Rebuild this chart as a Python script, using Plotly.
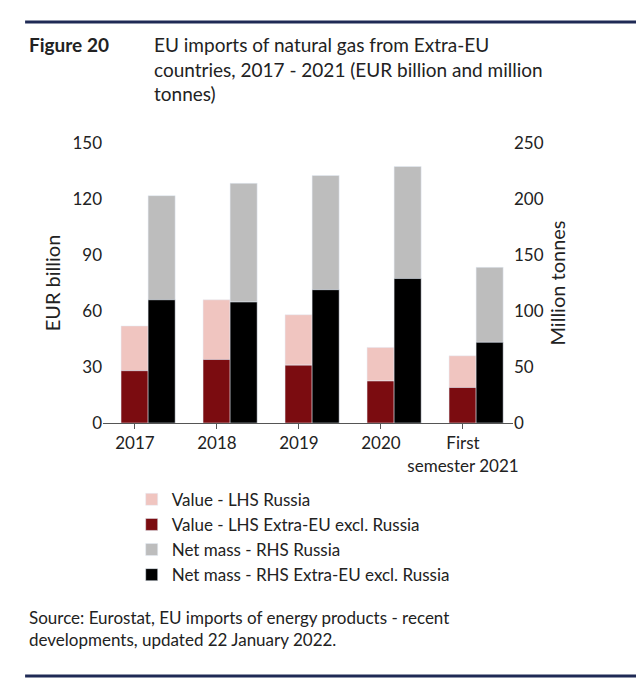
import plotly.graph_objects as go

periods = ["2017", "2018", "2019", "2020", "First<br>semester 2021"]
value_extra_eu = [28, 34, 31, 22.5, 19]
value_russia = [24, 32, 27, 18, 17]
mass_extra_eu = [110, 108, 119, 129, 72]
mass_russia = [93, 106, 102, 100, 67]

xs = list(range(len(periods)))
w = 0.33
font = "Lato, Open Sans, sans-serif"

fig = go.Figure()
fig.add_trace(go.Bar(x=xs, y=value_russia, base=value_extra_eu, width=w, offset=-w,
                     marker_color="#f0c5c0", name="Value - LHS Russia"))
fig.add_trace(go.Bar(x=xs, y=value_extra_eu, width=w, offset=-w,
                     marker_color="#7b0c10", name="Value - LHS Extra-EU excl. Russia"))
fig.add_trace(go.Bar(x=xs, y=mass_russia, base=mass_extra_eu, width=w, offset=0,
                     marker_color="#bdbdbd", name="Net mass - RHS Russia", yaxis="y2"))
fig.add_trace(go.Bar(x=xs, y=mass_extra_eu, width=w, offset=0,
                     marker_color="#000000", name="Net mass - RHS Extra-EU excl. Russia", yaxis="y2"))

fig.update_layout(
    width=644, height=685, barmode="overlay",
    paper_bgcolor="white", plot_bgcolor="white",
    font=dict(family=font, size=17, color="#222"),
    margin=dict(l=95, r=139, t=135, b=270, autoexpand=False),
    showlegend=True,
    legend=dict(x=0.07, y=-0.21, xanchor="left", yanchor="top", traceorder="normal",
                font=dict(size=17), itemwidth=30, tracegroupgap=0),
    xaxis=dict(range=[-0.55, 4.45], tickvals=[x - 0.16 for x in xs], ticktext=periods,
               showline=True, linecolor="#555", ticks="outside", ticklen=5, tickcolor="#555",
               showgrid=False),
    yaxis=dict(range=[0, 150], tickvals=[0, 30, 60, 90, 120, 150], showgrid=False,
               title=dict(text="EUR billion", standoff=6), zeroline=False),
    yaxis2=dict(range=[0, 250], tickvals=[0, 50, 100, 150, 200, 250], overlaying="y",
                side="right", showgrid=False, title=dict(text="Million tonnes", standoff=8),
                zeroline=False),
    shapes=[
        dict(type="line", xref="paper", yref="paper", x0=-0.19, x1=1.31, y0=1.432, y1=1.432,
             line=dict(color="#1f2a55", width=3)),
        dict(type="line", xref="paper", yref="paper", x0=-0.19, x1=1.31, y0=-0.904, y1=-0.904,
             line=dict(color="#1f2a55", width=3)),
    ],
    annotations=[
        dict(text="<b>Figure 20</b>", xref="paper", yref="paper", x=-0.185, y=1.40,
             xanchor="left", yanchor="top", showarrow=False, font=dict(size=19)),
        dict(text="EU imports of natural gas from Extra-EU<br>countries, 2017 - 2021 (EUR billion and million<br>tonnes)",
             xref="paper", yref="paper", x=0.12, y=1.40, xanchor="left", yanchor="top",
             showarrow=False, align="left", font=dict(size=19)),
        dict(text="Source: Eurostat, EU imports of energy products - recent<br>developments, updated 22 January 2022.",
             xref="paper", yref="paper", x=-0.185, y=-0.65, xanchor="left", yanchor="top",
             showarrow=False, align="left", font=dict(size=17)),
    ],
)

fig.write_html("out.html")
